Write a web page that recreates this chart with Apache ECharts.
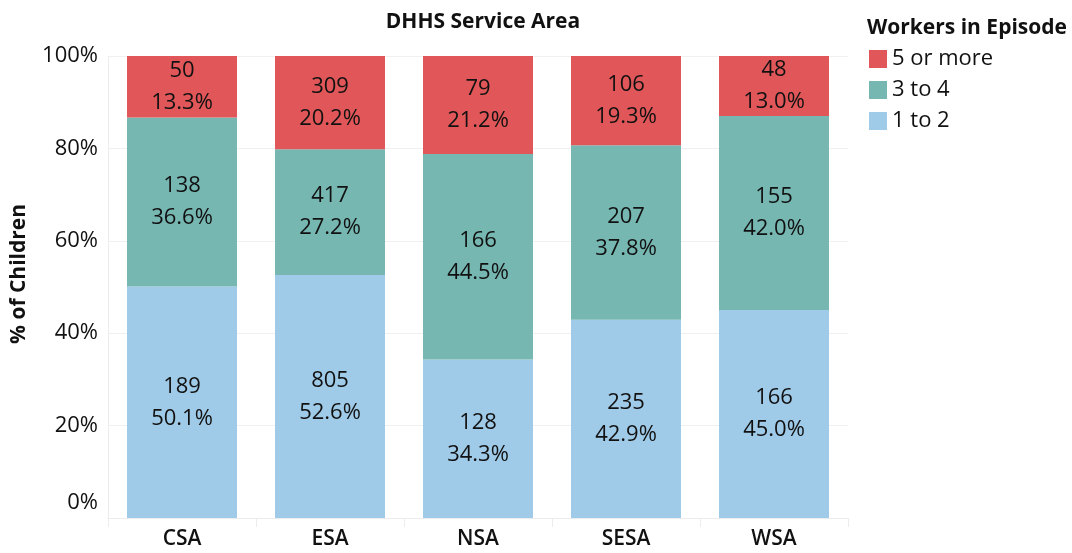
<!DOCTYPE html>
<html>
<head>
<meta charset="utf-8">
<script src="https://cdn.jsdelivr.net/npm/echarts@6/dist/echarts.min.js"></script>
<style>
  html, body { margin: 0; padding: 0; background: #fff; }
  #chart { width: 1072px; height: 553px; }
</style>
</head>
<body>
<div id="chart"></div>
<script>
  // service areas
  var areas = ['CSA', 'ESA', 'NSA', 'SESA', 'WSA'];
  // counts of children per group
  var count12 = [189, 805, 128, 235, 166];
  var count34 = [138, 417, 166, 207, 155];
  var count5 = [50, 309, 79, 106, 48];
  // share of children (%) per group
  var pct12 = [50.1, 52.6, 34.3, 42.9, 45.0];
  var pct34 = [36.6, 27.2, 44.5, 37.8, 42.0];
  var pct5 = [13.3, 20.2, 21.2, 19.3, 13.0];
  var yTicks = [0, 20, 40, 60, 80, 100];

  var font = '"Open Sans", "Noto Sans", sans-serif';
  var chart = echarts.init(document.getElementById('chart'), null, { renderer: 'canvas' });

  function seg(name, pcts, counts, color) {
    return {
      name: name,
      type: 'bar',
      stack: 'total',
      barWidth: 110,
      itemStyle: { color: color },
      data: pcts,
      label: {
        show: true,
        position: 'inside',
        color: '#111',
        fontFamily: font,
        fontSize: 22,
        lineHeight: 32,
        formatter: function (p) {
          return counts[p.dataIndex] + '\n' + pcts[p.dataIndex].toFixed(1) + '%';
        }
      },
      emphasis: { disabled: true }
    };
  }

  var option = {
    animation: false,
    title: [
      {
        text: 'DHHS Service Area',
        left: 478, top: 7, textAlign: 'center',
        textStyle: { fontFamily: font, fontSize: 21, fontWeight: 'bold', color: '#111' }
      },
      {
        text: 'Workers in Episode',
        left: 862, top: 13,
        textStyle: { fontFamily: font, fontSize: 21, fontWeight: 'bold', color: '#111' }
      }
    ],
    legend: {
      data: ['5 or more', '3 to 4', '1 to 2'],
      orient: 'vertical',
      left: 864, top: 43,
      itemWidth: 18, itemHeight: 18, itemGap: 9,
      icon: 'rect',
      textStyle: { fontFamily: font, fontSize: 22, color: '#111', padding: [0, 0, 0, 0] }
    },
    grid: { left: 108, right: 224, top: 56, bottom: 35 },
    xAxis: {
      type: 'category',
      data: areas,
      axisLine: { show: true, lineStyle: { color: '#ececec' } },
      axisTick: { show: true, length: 9, lineStyle: { color: '#ececec' } },
      axisLabel: { fontFamily: font, fontSize: 21, fontWeight: 600, color: '#111', margin: 11 }
    },
    yAxis: {
      type: 'value',
      min: 0, max: 100, interval: 20,
      name: '% of Children',
      nameLocation: 'middle',
      nameGap: 78,
      nameTextStyle: { fontFamily: font, fontSize: 21, fontWeight: 'bold', color: '#111', padding: [0, 0, 0, 26] },
      axisLine: { show: true, lineStyle: { color: '#ececec' } },
      axisTick: { show: false },
      splitLine: { lineStyle: { color: '#f0f0f0' } },
      axisLabel: {
        fontFamily: font, fontSize: 22, color: '#111', margin: 10,
        customValues: yTicks,
        formatter: function (v) { return v === 0 ? '{z|0%}' : v + '%'; },
        rich: { z: { fontFamily: font, fontSize: 22, color: '#111', padding: [0, 0, 30, 0] } }
      }
    },
    series: [
      seg('1 to 2', pct12, count12, '#a0cbe8'),
      seg('3 to 4', pct34, count34, '#76b7b2'),
      seg('5 or more', pct5, count5, '#e15759')
    ]
  };

  chart.setOption(option);
  window.addEventListener('resize', function () { chart.resize(); });
</script>
</body>
</html>
